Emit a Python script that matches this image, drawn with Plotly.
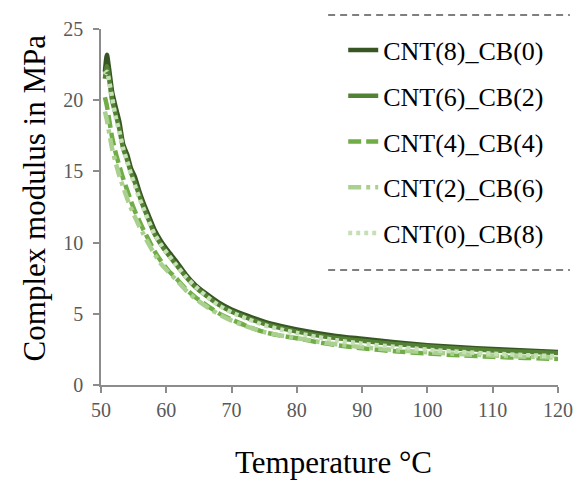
import plotly.graph_objects as go

# Temperature sweep (°C) shared by all samples
temperature = [50.6, 50.9, 51.3, 51.7, 52.2, 52.8, 53.4, 54.0, 54.6, 55.2, 55.8, 56.5,
               57.3, 58.2, 59.2, 60.3, 61.5, 63.0, 64.5, 66.0, 68.0, 70.0, 72.5, 75.0,
               77.5, 80.0, 83.0, 86.0, 90.0, 95.0, 100.0, 105.0, 110.0, 115.0, 120.0]

# Complex modulus (MPa) for each filler combination
cnt8_cb0 = [22.0, 23.2, 22.0, 20.6, 19.6, 18.5, 16.9, 16.2, 15.2, 14.6, 13.7, 12.8,
            11.9, 10.9, 10.1, 9.4, 8.7, 7.75, 7.0, 6.45, 5.8, 5.3, 4.85, 4.45,
            4.15, 3.9, 3.65, 3.45, 3.25, 3.0, 2.8, 2.65, 2.52, 2.42, 2.32]
cnt6_cb2 = [21.5, 22.4, 21.3, 20.0, 19.1, 18.0, 16.6, 15.8, 14.9, 14.2, 13.4, 12.5,
            11.6, 10.6, 9.85, 9.15, 8.45, 7.6, 6.85, 6.3, 5.65, 5.15, 4.7, 4.3,
            4.0, 3.75, 3.5, 3.3, 3.1, 2.88, 2.7, 2.55, 2.43, 2.33, 2.24]
cnt4_cb4 = [20.2, 19.6, 18.5, 17.4, 16.4, 15.4, 14.5, 13.7, 12.9, 12.2, 11.6, 10.9,
            10.2, 9.4, 8.7, 8.05, 7.5, 6.75, 6.15, 5.65, 5.05, 4.6, 4.1, 3.72,
            3.47, 3.28, 3.02, 2.8, 2.58, 2.37, 2.21, 2.08, 1.98, 1.9, 1.83]
cnt2_cb6 = [19.2, 18.6, 17.6, 16.6, 15.7, 14.7, 13.9, 13.1, 12.4, 11.8, 11.2, 10.6,
            9.9, 9.2, 8.5, 7.95, 7.4, 6.65, 6.05, 5.55, 4.98, 4.52, 4.08, 3.72,
            3.48, 3.3, 3.06, 2.86, 2.65, 2.45, 2.3, 2.17, 2.07, 1.99, 1.93]
cnt0_cb8 = [21.8, 22.0, 21.2, 20.2, 18.9, 17.8, 16.6, 15.7, 14.8, 14.0, 13.2, 12.4,
            11.5, 10.6, 9.85, 9.15, 8.45, 7.6, 6.9, 6.3, 5.6, 5.1, 4.62, 4.2,
            3.9, 3.65, 3.38, 3.15, 2.9, 2.68, 2.48, 2.32, 2.2, 2.1, 2.02]

series_names = ["CNT(8)_CB(0)", "CNT(6)_CB(2)", "CNT(4)_CB(4)", "CNT(2)_CB(6)", "CNT(0)_CB(8)"]
series_values = [cnt8_cb0, cnt6_cb2, cnt4_cb4, cnt2_cb6, cnt0_cb8]
series_colors = ["#375623", "#548235", "#70ad47", "#a9d08e", "#c5e0b4"]
series_dashes = ["solid", "solid", "13px,5px", "13px,5px,4px,5px", "4px,4px"]

x_ticks = [50, 60, 70, 80, 90, 100, 110, 120]
y_ticks = [0, 5, 10, 15, 20, 25]

SERIF = "Liberation Serif"

fig = go.Figure()
for name, vals, col, dash in zip(series_names, series_values, series_colors, series_dashes):
    fig.add_trace(go.Scatter(
        x=temperature, y=vals, name=name, mode="lines", legendgroup=name,
        line=dict(color=col, width=4.5, dash=dash, shape="spline", smoothing=0.6),
    ))

axis_common = dict(
    showline=True, linecolor="#8c8c8c", linewidth=1.6,
    ticks="outside", ticklen=6, tickcolor="#8c8c8c", tickwidth=1.6,
    showgrid=False, zeroline=False,
    tickfont=dict(family=SERIF, size=20, color="#595959"),
)

fig.update_layout(
    width=585, height=481,
    margin=dict(l=101, r=17, t=29, b=96),
    paper_bgcolor="white", plot_bgcolor="white",
    xaxis=dict(range=[50, 120], tickvals=x_ticks, **axis_common),
    yaxis=dict(range=[0, 25], tickvals=y_ticks, ticklabelstandoff=6, **axis_common),
    legend=dict(
        x=0.53, y=1.007, xanchor="left", yanchor="top",
        bgcolor="rgba(0,0,0,0)", borderwidth=0,
        font=dict(family=SERIF, size=26, color="black"),
        tracegroupgap=9,
    ),
    annotations=[
        dict(text="Complex modulus in MPa", x=-0.146, y=0.525, xref="paper", yref="paper",
             xanchor="center", yanchor="middle", textangle=-90, showarrow=False,
             font=dict(family=SERIF, size=31, color="black")),
        dict(text="Temperature °C", x=0.508, y=-0.219, xref="paper", yref="paper",
             xanchor="center", yanchor="middle", showarrow=False,
             font=dict(family=SERIF, size=31, color="black")),
    ],
    shapes=[
        dict(type="line", xref="paper", yref="paper", x0=0.497, x1=1.026, y0=1.039, y1=1.039,
             line=dict(color="#7f7f7f", width=2, dash="7px,5px")),
        dict(type="line", xref="paper", yref="paper", x0=0.497, x1=1.026, y0=0.323, y1=0.323,
             line=dict(color="#7f7f7f", width=2, dash="7px,5px")),
    ],
)

fig.write_html("out.html")
